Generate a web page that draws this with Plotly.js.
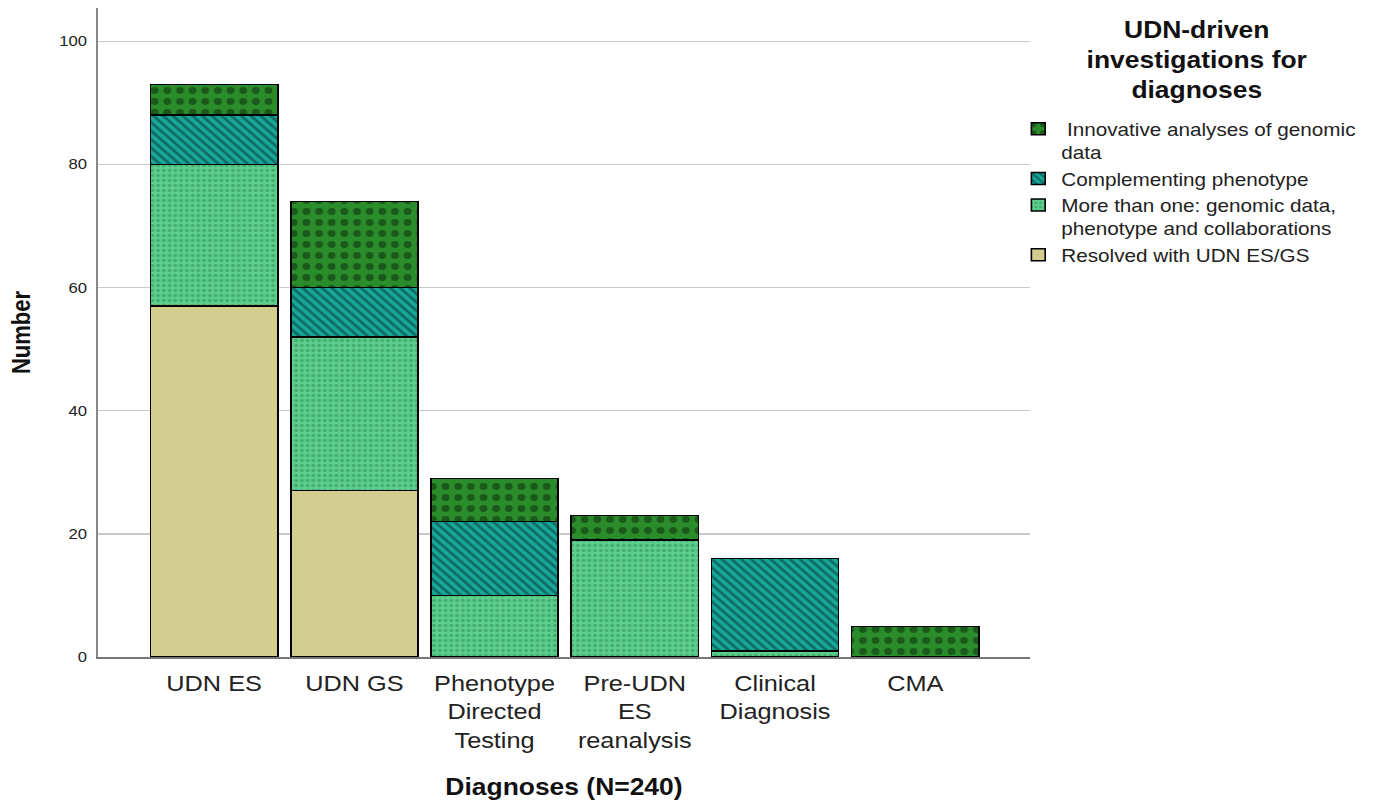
<!DOCTYPE html>
<html>
<head>
<meta charset="utf-8">
<script src="https://cdn.plot.ly/plotly-3.0.1.min.js"></script>
<style>
html,body{margin:0;padding:0;background:#fff;overflow:hidden;width:1374px;height:804px;}
#chart{width:1195px;height:804px;transform:scaleX(1.14979);transform-origin:0 0;}
</style>
</head>
<body>
<div id="chart"></div>
<script>
var categories = ["UDN ES", "UDN GS", "Phenotype<br>Directed<br>Testing", "Pre-UDN<br>ES<br>reanalysis", "Clinical<br>Diagnosis", "CMA"];
var resolvedUDN = [57, 27, null, null, null, null];
var moreThanOne = [23, 25, 10, 19, 1, null];
var complementing = [8, 8, 12, null, 15, null];
var innovative = [5, 14, 7, 4, null, 5];
var seriesNames = ["Resolved with UDN ES/GS", "More than one: genomic data,<br>phenotype and collaborations", "Complementing phenotype", " Innovative analyses of genomic<br>data"];

var F = "Liberation Sans, Arial, sans-serif";
var line = {color: "#000", width: 1.4};

var traces = [
  {type: "bar", name: seriesNames[0], x: categories, y: resolvedUDN,
   marker: {color: "#d3cd90", line: line}},
  {type: "bar", name: seriesNames[1], x: categories, y: moreThanOne,
   marker: {color: "#5ccf8c", line: line, pattern: {shape: ".", fgcolor: "#2f8a55", size: 5, solidity: 0.35, fillmode: "overlay"}}},
  {type: "bar", name: seriesNames[2], x: categories, y: complementing,
   marker: {color: "#17a89c", line: line, pattern: {shape: "\\", fgcolor: "#0b2d2a", size: 6, solidity: 0.42, fillmode: "overlay"}}},
  {type: "bar", name: seriesNames[3], x: categories, y: innovative,
   marker: {color: "#2a8c2a", line: line, pattern: {shape: ".", fgcolor: "#0a260a", size: 11, solidity: 0.3, fillmode: "overlay"}}}
];
traces.forEach(function(t){ t.hoverinfo = "x+y+name"; });

var layout = {
  width: 1195, height: 804,
  paper_bgcolor: "#fff", plot_bgcolor: "#fff",
  barmode: "stack", bargap: 0.093,
  margin: {l: 85, r: 299, t: 8, b: 147},
  font: {family: F, color: "#222"},
  xaxis: {
    type: "category", range: [-0.83, 5.82],
    showline: true, linecolor: "#777", linewidth: 1.5,
    ticks: "", ticklabelstandoff: 6, tickfont: {size: 22, color: "#222", family: F},
    title: {text: "<b>Diagnoses (N=240)</b>", font: {size: 23, color: "#111", family: F}, standoff: 27},
    automargin: false
  },
  yaxis: {
    range: [0, 105.4], tickvals: [0, 20, 40, 60, 80, 100],
    showgrid: true, gridcolor: "#c8c8c8", gridwidth: 1.5,
    showline: true, linecolor: "#888", linewidth: 1.5,
    ticks: "", ticklabelstandoff: 5, tickfont: {size: 14.5, color: "#222", family: F},
    zeroline: false,
    title: {text: "<b>Number</b>", font: {size: 22, color: "#111", family: F}, standoff: 18},
    automargin: false
  },
  showlegend: true,
  legend: {
    x: 0.984, xanchor: "left", y: 0.842, yanchor: "top",
    traceorder: "reversed", font: {size: 18, color: "#222", family: F},
    bgcolor: "rgba(0,0,0,0)", itemwidth: 30, tracegroupgap: 0, valign: "top"
  },
  annotations: [{
    xref: "paper", yref: "paper", x: 1.179, y: 0.989, xanchor: "center", yanchor: "top",
    text: "<b>UDN-driven<br>investigations for<br>diagnoses</b>", showarrow: false,
    font: {size: 23, color: "#111", family: F}, align: "center"
  }]
};

Plotly.newPlot("chart", traces, layout, {displayModeBar: false, staticPlot: true});
</script>
</body>
</html>
